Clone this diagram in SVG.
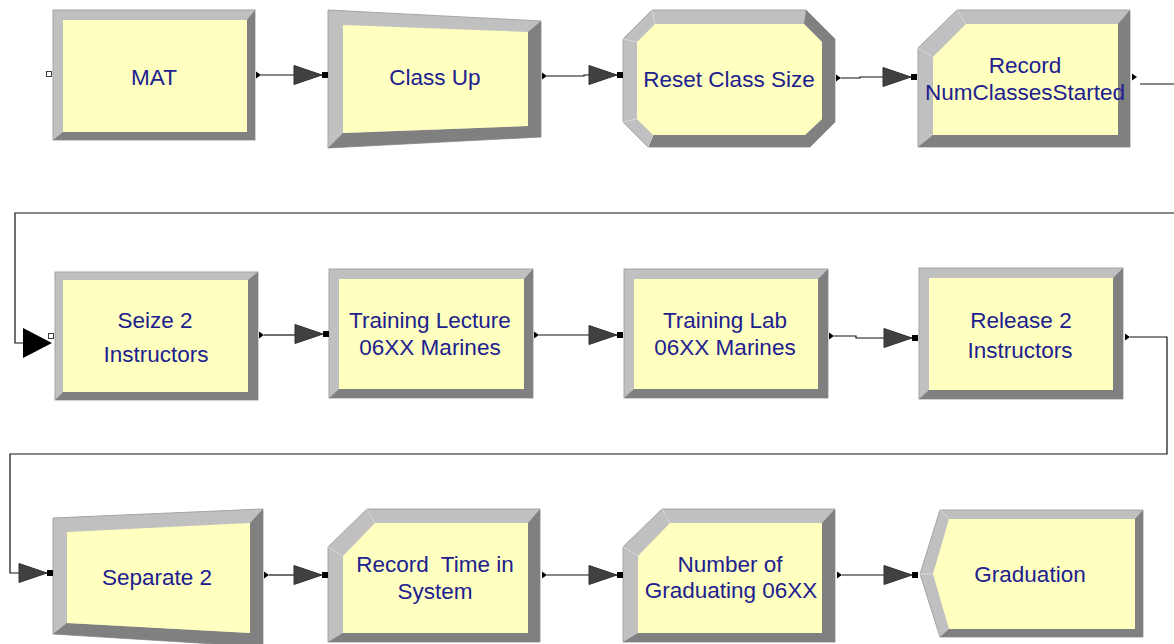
<svg xmlns="http://www.w3.org/2000/svg" xmlns:xlink="http://www.w3.org/1999/xlink" width="1174" height="644" viewBox="0 0 1174 644">
  <style>
    .lt { fill: #c0c0c0; stroke: #a4a4a4; stroke-width: 1; }
    .dk { fill: #808080; }
    .face { fill: #ffffc0; }
    .crease { stroke: #d8d8d8; stroke-width: 1; fill: none; }
    .lbl { font-family: "Liberation Sans", Arial, sans-serif; font-size: 22.5px; fill: #20208f; text-anchor: middle; white-space: pre; }
    .wire { fill: none; stroke: #101010; stroke-width: 1.2; }
  </style>
  <defs>
    <!-- entry arrow with its black entry point -->
    <g id="entry">
      <polygon points="0,-9.5 0,9.5 28,0" fill="#404040" stroke="#303030" stroke-width="1"/>
      <rect x="28" y="-3" width="6" height="6" fill="#000"/>
    </g>
    <!-- exit point of a module -->
    <polygon id="exitp" points="0,-3.5 0,3.5 5,0" fill="#000"/>
  </defs>

  <rect width="1174" height="644" fill="#fff"/>

  <!-- Row 1 -->
  <g id="mat">
    <rect class="lt" x="53" y="10" width="202" height="130"/>
    <polygon class="dk" points="255,10 255,140 53,140 63,132 247,132 247,20"/>
    <rect class="face" x="63" y="20" width="184" height="112"/>
    <rect x="46.5" y="71.5" width="5" height="5" fill="#fff" stroke="#404040" stroke-width="1"/>
    <text class="lbl" x="154" y="85">MAT</text>
  </g>

  <g id="class-up">
    <polygon class="lt" points="328,10 541,21 541,137 328,148"/>
    <polygon class="dk" points="541,21 541,137 328,148 343,133 528,126 528,32"/>
    <polygon class="face" points="343,25 528,32 528,126 343,133"/>
    <text class="lbl" x="435" y="85">Class Up</text>
  </g>

  <g id="reset-class-size">
    <polygon class="lt" points="652,10 806,10 835,39 835,122 810,147 648,147 623,122 623,39"/>
    <polygon class="dk" points="806,10 835,39 835,122 810,147 648,147 653,135 805,135 822,119 822,42 804,24"/>
    <polygon class="face" points="655,24 804,24 822,42 822,119 805,135 653,135 637,119 637,42"/>
    <path class="crease" d="M623,39 L637,42 M652,10 L655,24 M623,122 L637,119 M648,147 L653,135"/>
    <text class="lbl" x="729" y="87">Reset Class Size</text>
  </g>

  <g id="record-numclassesstarted">
    <polygon class="lt" points="957,10 1130,10 1130,147 918,147 918,48"/>
    <polygon class="dk" points="1130,10 1130,147 918,147 933,135 1118,135 1118,24"/>
    <polygon class="face" points="966,24 1118,24 1118,135 933,135 933,57"/>
    <path class="crease" d="M918,48 L933,57 M957,10 L966,24"/>
    <text class="lbl" x="1025" y="73">Record</text>
    <text class="lbl" x="1025" y="100">NumClassesStarted</text>
  </g>

  <!-- Row 2 -->
  <g id="seize-2-instructors">
    <rect class="lt" x="55" y="272" width="203" height="128"/>
    <polygon class="dk" points="258,272 258,400 55,400 63,392 248,392 248,280"/>
    <rect class="face" x="63" y="280" width="185" height="112"/>
    <rect x="48.5" y="333.5" width="5" height="5" fill="#fff" stroke="#404040" stroke-width="1"/>
    <text class="lbl" x="155" y="328">Seize 2</text>
    <text class="lbl" x="156" y="362">Instructors</text>
  </g>

  <g id="training-lecture">
    <rect class="lt" x="329" y="269" width="204" height="129"/>
    <polygon class="dk" points="533,269 533,398 329,398 339,389 524,389 524,279"/>
    <rect class="face" x="339" y="279" width="185" height="110"/>
    <text class="lbl" x="430" y="328">Training Lecture</text>
    <text class="lbl" x="430" y="355">06XX Marines</text>
  </g>

  <g id="training-lab">
    <rect class="lt" x="624" y="269" width="204" height="129"/>
    <polygon class="dk" points="828,269 828,398 624,398 634,389 818,389 818,279"/>
    <rect class="face" x="634" y="279" width="184" height="110"/>
    <text class="lbl" x="725" y="328">Training Lab</text>
    <text class="lbl" x="725" y="355">06XX Marines</text>
  </g>

  <g id="release-2-instructors">
    <rect class="lt" x="919" y="268" width="204" height="131"/>
    <polygon class="dk" points="1123,268 1123,399 919,399 929,390 1113,390 1113,278"/>
    <rect class="face" x="929" y="278" width="184" height="112"/>
    <text class="lbl" x="1021" y="328">Release 2</text>
    <text class="lbl" x="1020" y="358">Instructors</text>
  </g>

  <!-- Row 3 -->
  <g id="separate-2">
    <polygon class="lt" points="53,518 263,509 263,647 53,634"/>
    <polygon class="dk" points="263,509 263,647 53,634 67,623 250,633 250,523"/>
    <polygon class="face" points="67,532 250,523 250,633 67,623"/>
    <text class="lbl" x="157" y="585">Separate 2</text>
  </g>

  <g id="record-time-in-system">
    <polygon class="lt" points="367,509 540,509 540,642 328,642 328,547"/>
    <polygon class="dk" points="540,509 540,642 328,642 343,633 528,633 528,523"/>
    <polygon class="face" points="375,523 528,523 528,633 343,633 343,556"/>
    <path class="crease" d="M328,547 L343,556 M367,509 L375,523"/>
    <text class="lbl" x="435" y="572">Record  Time in</text>
    <text class="lbl" x="435" y="599">System</text>
  </g>

  <g id="number-of-graduating">
    <polygon class="lt" points="662,509 835,509 835,642 623,642 623,547"/>
    <polygon class="dk" points="835,509 835,642 623,642 638,633 822,633 822,523"/>
    <polygon class="face" points="670,523 822,523 822,633 638,633 638,556"/>
    <path class="crease" d="M623,547 L638,556 M662,509 L670,523"/>
    <text class="lbl" x="730" y="572">Number of</text>
    <text class="lbl" x="731" y="598">Graduating 06XX</text>
  </g>

  <g id="graduation">
    <polygon class="lt" points="940,510 1143,510 1143,637 940,637 920,574"/>
    <polygon class="dk" points="1143,510 1143,637 940,637 949,629 1135,629 1135,519"/>
    <polygon class="face" points="949,519 1135,519 1135,629 949,629 933,574"/>
    <path class="crease" d="M920,574 L933,574 M940,510 L949,519"/>
    <text class="lbl" x="1030" y="582">Graduation</text>
  </g>

  <!-- Connectors -->
  <g id="connectors">
    <!-- MAT to Class Up -->
    <use xlink:href="#exitp" x="256" y="75"/>
    <path class="wire" d="M261,75 H294"/>
    <use xlink:href="#entry" x="294" y="75"/>

    <!-- Class Up to Reset Class Size -->
    <use xlink:href="#exitp" x="542" y="76"/>
    <path class="wire" d="M547,76 H584 V75 H589"/>
    <use xlink:href="#entry" x="589" y="75"/>

    <!-- Reset Class Size to Record NumClassesStarted -->
    <use xlink:href="#exitp" x="836" y="78"/>
    <path class="wire" d="M841,78 H860 V77 H883"/>
    <use xlink:href="#entry" x="883" y="77"/>

    <!-- Record NumClassesStarted to Seize 2 Instructors -->
    <use xlink:href="#exitp" x="1132" y="77"/>
    <path class="wire" d="M1140,84 H1190 V213 H15 V343 H23"/>
    <polygon points="23,328 23,358 52,343" fill="#000"/>

    <!-- Seize to Training Lecture -->
    <use xlink:href="#exitp" x="259" y="335"/>
    <path class="wire" d="M264,335 H295"/>
    <use xlink:href="#entry" x="295" y="334"/>

    <!-- Training Lecture to Training Lab -->
    <use xlink:href="#exitp" x="534" y="335"/>
    <path class="wire" d="M539,335 H589"/>
    <use xlink:href="#entry" x="589" y="335"/>

    <!-- Training Lab to Release -->
    <use xlink:href="#exitp" x="829" y="336"/>
    <path class="wire" d="M834,336 H856 V338 H884"/>
    <use xlink:href="#entry" x="884" y="338"/>

    <!-- Release to Separate -->
    <use xlink:href="#exitp" x="1125" y="337"/>
    <path class="wire" d="M1130,337 H1167 V454 H10 V573 H19"/>
    <use xlink:href="#entry" x="19" y="573"/>

    <!-- Separate to Record Time in System -->
    <use xlink:href="#exitp" x="264" y="575"/>
    <path class="wire" d="M269,575 H294"/>
    <use xlink:href="#entry" x="294" y="575"/>

    <!-- Record Time in System to Number of Graduating -->
    <use xlink:href="#exitp" x="542" y="575"/>
    <path class="wire" d="M547,575 H589"/>
    <use xlink:href="#entry" x="589" y="575"/>

    <!-- Number of Graduating to Graduation -->
    <use xlink:href="#exitp" x="837" y="575"/>
    <path class="wire" d="M842,575 H884"/>
    <use xlink:href="#entry" x="884" y="575"/>
  </g>
</svg>
